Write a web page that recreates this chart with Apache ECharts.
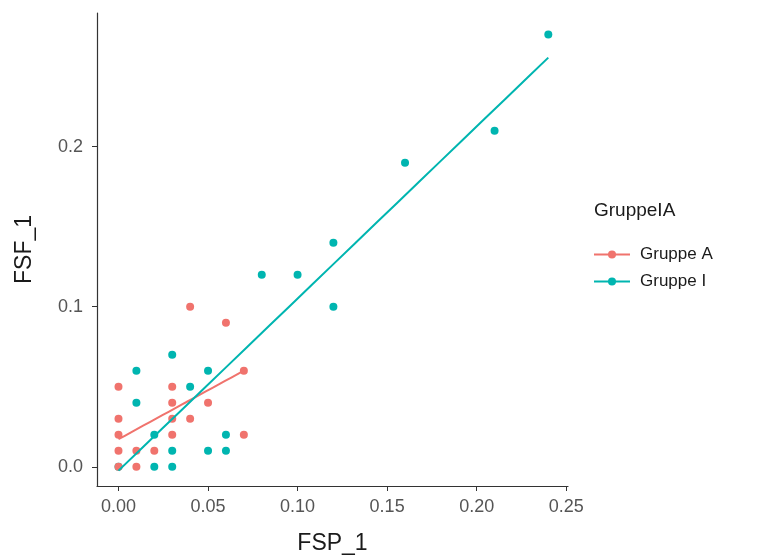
<!DOCTYPE html>
<html><head><meta charset="utf-8">
<script src="https://cdn.jsdelivr.net/npm/echarts@6/dist/echarts.min.js"></script>
<style>html,body{margin:0;padding:0;background:#fff}#c{width:774px;height:560px}</style>
</head><body><div id="c"></div>
<script>
// Group A (red)
const groupA_x = [0.04,0.06,0.07,0.00,0.03,0.03,0.05,0.00,0.03,0.04,0.00,0.03,0.07,0.00,0.01,0.02,0.00,0.01];
const groupA_y = [0.10,0.09,0.06,0.05,0.05,0.04,0.04,0.03,0.03,0.03,0.02,0.02,0.02,0.01,0.01,0.01,0.00,0.00];
// Group I (teal)
const groupI_x = [0.08,0.10,0.12,0.12,0.16,0.21,0.24,0.03,0.01,0.05,0.04,0.01,0.02,0.06,0.03,0.05,0.06,0.02,0.03,0.00];
const groupI_y = [0.12,0.12,0.14,0.10,0.19,0.21,0.27,0.07,0.06,0.06,0.05,0.04,0.02,0.02,0.01,0.01,0.01,0.00,0.00,0.00];
const xTicks = [0, 0.05, 0.10, 0.15, 0.20, 0.25];
const yTicks = [0, 0.1, 0.2];
const groupNames = ['Gruppe A', 'Gruppe I'];
const legendTitle = 'GruppeIA';
const xTitle = 'FSP_1';
const yTitle = 'FSF_1';

const RED = '#F0736D', TEAL = '#00B5B0';
const FONT = 'Liberation Sans, Arial, sans-serif';

function pts(xs, ys){ return xs.map((x,i)=>[x, ys[i]]); }
function fit(xs, ys){
  const n = xs.length;
  const mx = xs.reduce((a,b)=>a+b,0)/n, my = ys.reduce((a,b)=>a+b,0)/n;
  let sxy=0, sxx=0;
  for(let i=0;i<n;i++){ sxy+=(xs[i]-mx)*(ys[i]-my); sxx+=(xs[i]-mx)*(xs[i]-mx); }
  const b = sxy/sxx, a = my - b*mx;
  const lo = Math.min(...xs), hi = Math.max(...xs);
  const out = [];
  const N = 20;
  for(let k=0;k<=N;k++){ const x = lo + (hi-lo)*k/N; out.push([x, a+b*x]); }
  return out;
}

const chart = echarts.init(document.getElementById('c'), null, {renderer:'canvas'});
const axisLabelStyle = {color:'#555555', fontSize:18, fontFamily:FONT};
chart.setOption({
  animation:false,
  backgroundColor:'#fff',
  grid:{left:97, right:206, top:13, bottom:74, containLabel:false},
  title:{text:legendTitle, left:589, top:196, textStyle:{fontSize:19, fontWeight:'normal', color:'#1a1a1a', fontFamily:FONT}},
  legend:{
    data:groupNames, orient:'vertical', left:588, top:241, itemGap:10,
    itemWidth:36, itemHeight:10,
    textStyle:{fontSize:17, color:'#1a1a1a', fontFamily:FONT, padding:[0,0,0,5]}
  },
  xAxis:{
    type:'value', min:-0.012, max:0.251,
    name:xTitle, nameLocation:'middle', nameGap:46,
    nameTextStyle:{fontSize:23, color:'#1a1a1a', fontFamily:FONT},
    axisLine:{show:true, onZero:false, lineStyle:{color:'#333', width:1.2}},
    axisTick:{show:true, length:5, customValues:xTicks, lineStyle:{color:'#333'}},
    axisLabel:{...axisLabelStyle, margin:12, customValues:xTicks, formatter:v=>v.toFixed(2)},
    splitLine:{show:false}
  },
  yAxis:{
    type:'value', min:-0.012, max:0.2835,
    name:yTitle, nameLocation:'middle', nameGap:61, nameRotate:90,
    nameTextStyle:{fontSize:23, color:'#1a1a1a', fontFamily:FONT},
    axisLine:{show:true, onZero:false, lineStyle:{color:'#333', width:1.2}},
    axisTick:{show:true, length:5, customValues:yTicks, lineStyle:{color:'#333'}},
    axisLabel:{...axisLabelStyle, margin:14, customValues:yTicks, formatter:v=>v.toFixed(1)},
    splitLine:{show:false}
  },
  series:[
    {name:groupNames[0], type:'line', data:fit(groupA_x, groupA_y), showSymbol:false, symbol:'circle', symbolSize:7,
     lineStyle:{color:RED, width:2}, itemStyle:{color:RED}, z:5},
    {name:groupNames[1], type:'line', data:fit(groupI_x, groupI_y), showSymbol:false, symbol:'circle', symbolSize:7,
     lineStyle:{color:TEAL, width:2}, itemStyle:{color:TEAL}, z:6},
    {name:'pts I', type:'scatter', data:pts(groupI_x, groupI_y), symbolSize:8, itemStyle:{color:TEAL, opacity:1}, z:2},
    {name:'pts A', type:'scatter', data:pts(groupA_x, groupA_y), symbolSize:8, itemStyle:{color:RED, opacity:1}, z:3}
  ]
});
</script></body></html>
